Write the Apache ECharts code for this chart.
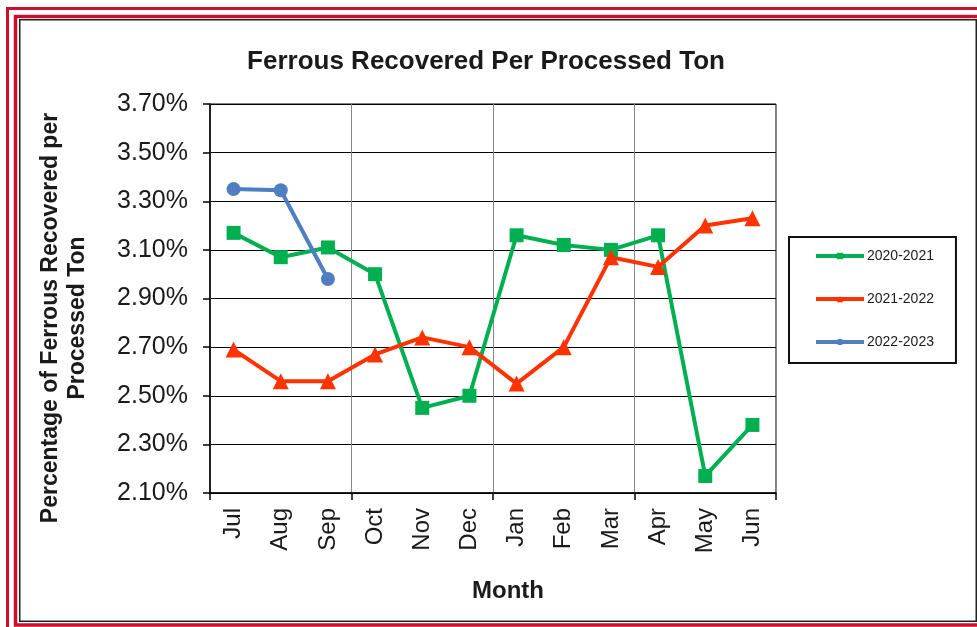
<!DOCTYPE html>
<html>
<head>
<meta charset="utf-8">
<script src="https://cdn.jsdelivr.net/npm/echarts@6/dist/echarts.min.js"></script>
<style>
html,body{margin:0;padding:0;background:#fff;}
#chart{width:977px;height:627px;}
</style>
</head>
<body>
<div id="chart"></div>
<script>
var months = ['Jul','Aug','Sep','Oct','Nov','Dec','Jan','Feb','Mar','Apr','May','Jun'];
var seriesNames = ['2020-2021','2021-2022','2022-2023'];
var fy2021 = [3.17, 3.07, 3.11, 3.00, 2.45, 2.50, 3.16, 3.12, 3.10, 3.16, 2.17, 2.38];
var fy2122 = [2.69, 2.56, 2.56, 2.67, 2.74, 2.70, 2.55, 2.70, 3.07, 3.03, 3.20, 3.23];
var fy2223 = [3.35, 3.345, 2.98];
var yMin = 2.1, yMax = 3.7, yStep = 0.2;

var chart = echarts.init(document.getElementById('chart'));
var txt = '#1a1a1a';
var font = 'Liberation Sans, Arial, sans-serif';
var every3 = function (i) { return i % 3 === 0; };
chart.setOption({
  animation: false,
  textStyle: {fontFamily: font},
  title: {
    text: 'Ferrous Recovered Per Processed Ton',
    left: 481, top: 44, textAlign: 'center',
    textStyle: {fontSize: 26, fontWeight: 'bold', color: txt, fontFamily: font}
  },
  grid: {left: 210, right: 201, top: 104, bottom: 134, show: true, borderColor: '#000', borderWidth: 1, containLabel: false},
  legend: {
    orient: 'vertical', left: 789, top: 237,
    padding: [12, 22, 14, 25], itemGap: 29, itemWidth: 48, itemHeight: 8,
    borderColor: '#111', borderWidth: 2,
    lineStyle: {width: 4},
    textStyle: {fontSize: 14, color: txt, fontFamily: font, padding: [0,0,0,-2]},
    data: seriesNames
  },
  xAxis: {
    type: 'category', data: months, boundaryGap: true,
    axisLine: {lineStyle: {color: '#000', width: 1.5}},
    axisTick: {show: true, interval: every3, length: 7, lineStyle: {color: '#000', width: 1.5}},
    axisLabel: {interval: 0, rotate: 90, fontSize: 24, color: txt, margin: 15, fontFamily: font},
    splitLine: {show: true, interval: every3, lineStyle: {color: '#888', width: 1}},
    name: 'Month', nameLocation: 'middle', nameGap: 86,
    nameTextStyle: {fontSize: 24, fontWeight: 'bold', color: txt, padding: [0,0,0,30], fontFamily: font}
  },
  yAxis: {
    type: 'value', min: yMin, max: yMax, interval: yStep,
    axisLine: {show: true, lineStyle: {color: '#000', width: 1.5}},
    axisTick: {show: true, length: 7, lineStyle: {color: '#000', width: 1.5}},
    axisLabel: {fontSize: 25, color: txt, margin: 22, fontFamily: font,
      formatter: function (v) { return v.toFixed(2) + '%'; }},
    splitLine: {show: true, lineStyle: {color: '#000', width: 1}}
  },
  graphic: [
    {type: 'rect', silent: true, z: 100, shape: {x: 7.5, y: 8.5, width: 1000, height: 1000}, style: {fill: 'none', stroke: '#C8102E', lineWidth: 3}},
    {type: 'rect', silent: true, z: 100, shape: {x: 15.5, y: 16.5, width: 1000, height: 608.5}, style: {fill: 'none', stroke: '#C8102E', lineWidth: 3.5}},
    {type: 'rect', silent: true, z: 100, shape: {x: 19.75, y: 19.75, width: 956.5, height: 601.5}, style: {fill: 'none', stroke: '#222', lineWidth: 1.5}},
    {type: 'text', silent: true, z: 100, x: 64, y: 318, rotation: Math.PI / 2,
      style: {text: 'Percentage of Ferrous Recovered per\nProcessed Ton', fontSize: 23, fontWeight: 'bold', fill: txt,
        align: 'center', verticalAlign: 'middle', lineHeight: 27, fontFamily: font}}
  ],
  series: [
    {name: seriesNames[0], type: 'line', data: fy2021, symbol: 'rect', symbolSize: 14,
      lineStyle: {color: '#00B050', width: 4}, itemStyle: {color: '#00B050'}},
    {name: seriesNames[1], type: 'line', data: fy2122, symbol: 'triangle', symbolSize: 16,
      lineStyle: {color: '#FF3300', width: 4}, itemStyle: {color: '#FF3300'}},
    {name: seriesNames[2], type: 'line', data: fy2223, symbol: 'circle', symbolSize: 14,
      lineStyle: {color: '#4F7FC0', width: 4}, itemStyle: {color: '#4F7FC0'}}
  ]
});
</script>
</body>
</html>
